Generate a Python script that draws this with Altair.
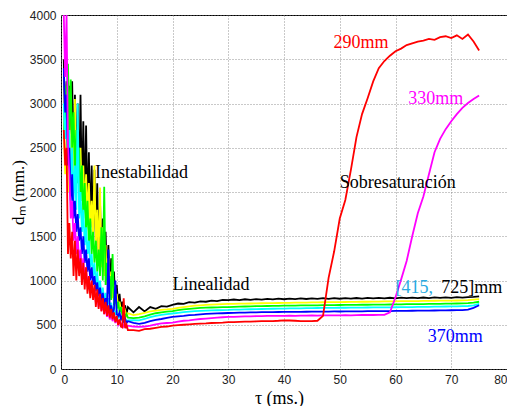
import altair as alt
import pandas as pd

# sample positions (ms)
x_early = [0.5 + 0.25 * i for i in range(47)]   # 0.5 .. 12.0
x_late = list(range(13, 76))                      # 13 .. 75

red_early = [2700, 2300, 2500, 1300, 1650, 1250, 1550, 1050, 1450, 1000, 1350, 1050,
             1250, 950, 1200, 900, 1150, 850, 1050, 800, 1000, 780, 950, 700,
             900, 680, 850, 650, 800, 620, 760, 600, 720, 580, 680, 560,
             640, 530, 600, 500, 560, 480, 470, 800, 460, 500, 440]
red_late = [440, 430, 450, 455, 465, 475, 480, 490, 495, 500, 505, 510, 512, 515, 520,
            522, 525, 530, 530, 533, 535, 535, 538, 540, 540, 542, 545, 550, 548, 545,
            540, 540, 542, 545, 600, 1030, 1330, 1700, 1910, 2250, 2620, 2880, 3060,
            3250, 3400, 3480, 3540, 3590, 3620, 3660, 3680, 3700, 3710, 3730, 3720,
            3750, 3760, 3740, 3770, 3730, 3780, 3700, 3600]

magenta_early = [4000, 3300, 4000, 2500, 2200, 1700, 1900, 1450, 1650, 1300, 1500, 1200,
                 1350, 1100, 1250, 1000, 1150, 930, 1050, 870, 980, 800, 900, 750,
                 850, 700, 800, 660, 740, 620, 700, 590, 660, 560, 630, 540,
                 600, 520, 570, 500, 540, 490, 520, 480, 500, 470, 490]
magenta_late = [480, 475, 480, 490, 505, 515, 520, 525, 535, 545, 550, 558, 565, 570, 575,
                580, 585, 588, 590, 592, 595, 595, 597, 598, 600, 600, 600, 600, 602, 600,
                603, 602, 605, 603, 605, 606, 605, 607, 608, 607, 608, 610, 610, 610, 612,
                612, 640, 810, 1010, 1220, 1500, 1760, 1950, 2200, 2450, 2600, 2710, 2800,
                2880, 2950, 3005, 3050, 3090]

blue_early = [3400, 2900, 3100, 2300, 2500, 1900, 2200, 1700, 1900, 1550, 1750, 1450,
              1600, 1300, 1500, 1200, 1350, 1100, 1250, 1000, 1150, 950, 1050, 880,
              980, 820, 920, 760, 860, 720, 800, 680, 1350, 650, 720, 620,
              680, 1000, 620, 600, 640, 560, 600, 540, 570, 520, 540]
blue_late = [520, 510, 520, 540, 555, 565, 578, 588, 595, 600, 608, 612, 618, 622, 625,
             628, 630, 633, 635, 636, 638, 640, 640, 642, 642, 643, 644, 645, 645, 646,
             646, 647, 648, 648, 648, 649, 650, 650, 651, 651, 652, 652, 653, 653, 654,
             655, 655, 656, 657, 657, 658, 659, 660, 660, 661, 662, 663, 664, 665, 666,
             670, 690, 720]

cyan_early = [3000, 2600, 2900, 2400, 2700, 2100, 2500, 1900, 2300, 1800, 3000, 1700,
              2000, 1550, 1800, 1400, 1600, 1300, 1450, 1150, 1300, 1050, 1200, 950,
              1100, 880, 1000, 820, 920, 760, 860, 720, 800, 680, 750, 640,
              700, 610, 660, 580, 620, 560, 590, 545, 570, 535, 550]
cyan_late = [553, 550, 565, 585, 600, 612, 620, 627, 635, 642, 648, 653, 657, 660, 662,
             664, 666, 667, 670, 672, 673, 675, 676, 678, 680, 681, 682, 683, 684, 685,
             686, 687, 688, 689, 690, 690, 691, 692, 692, 693, 694, 694, 695, 696, 696,
             697, 697, 698, 699, 700, 700, 701, 702, 703, 704, 705, 706, 707, 708, 710,
             712, 720, 735]

green_early = [2600, 3200, 2800, 3450, 2700, 3270, 2500, 2900, 2200, 2700, 2100, 2500,
               1900, 2300, 1700, 2100, 1550, 1900, 1400, 1700, 1300, 1550, 1200, 1450,
               1100, 1350, 1050, 1600, 1000, 2060, 950, 1200, 850, 1050, 780, 1300,
               720, 850, 680, 760, 640, 700, 610, 650, 590, 620, 580]
green_late = [576, 580, 595, 615, 630, 640, 648, 655, 665, 673, 680, 685, 690, 693, 695,
              697, 699, 700, 702, 704, 706, 708, 710, 711, 712, 713, 714, 715, 716, 717,
              718, 719, 720, 720, 721, 722, 722, 723, 724, 724, 725, 726, 726, 727, 728,
              728, 729, 730, 731, 732, 732, 733, 734, 735, 736, 737, 738, 739, 740, 742,
              744, 750, 760]

yellow_early = [2700, 2200, 2600, 2000, 2900, 2300, 2800, 2200, 3050, 2100, 2700, 2000,
                2500, 1900, 2300, 1800, 2200, 1700, 2100, 1600, 1900, 1500, 2300, 1400,
                1800, 1250, 2050, 1150, 1600, 1050, 1400, 950, 1250, 880, 1100, 800,
                950, 740, 850, 690, 760, 650, 700, 620, 660, 600, 630]
yellow_late = [610, 620, 635, 650, 660, 668, 673, 680, 690, 700, 708, 715, 720, 725, 728,
               730, 732, 735, 736, 738, 739, 740, 742, 743, 744, 745, 746, 747, 748, 749,
               750, 751, 752, 753, 754, 755, 755, 756, 757, 758, 759, 760, 760, 761, 762,
               763, 764, 765, 766, 767, 768, 768, 769, 770, 771, 772, 772, 773, 774, 775,
               778, 785, 790]

black_early = [3500, 2600, 3250, 2500, 3200, 2400, 3250, 2300, 3100, 2200, 3000, 2000,
               3100, 1900, 2800, 1800, 2750, 1700, 2450, 1600, 2300, 1500, 2250, 1400,
               2100, 1300, 1900, 1200, 1700, 1100, 1550, 1000, 1400, 900, 1250, 820,
               1100, 760, 950, 720, 850, 680, 760, 640, 720, 620, 700]
black_late = [640, 700, 650, 700, 680, 710, 705, 725, 740, 735, 755, 750, 765, 760, 772,
              768, 780, 778, 785, 778, 788, 782, 790, 785, 792, 786, 795, 788, 795, 790,
              797, 791, 798, 792, 800, 793, 800, 794, 801, 795, 802, 796, 803, 797, 804,
              798, 805, 799, 806, 800, 807, 801, 808, 802, 809, 803, 810, 804, 811, 806,
              812, 815, 820]

series = [
    ("725mm", "#000000", black_early, black_late),
    ("650mm", "#ffff00", yellow_early, yellow_late),
    ("540mm", "#00ff00", green_early, green_late),
    ("415mm", "#00ffff", cyan_early, cyan_late),
    ("370mm", "#0000ff", blue_early, blue_late),
    ("330mm", "#ff00ff", magenta_early, magenta_late),
    ("290mm", "#ff0000", red_early, red_late),
]

# annotations
ann_text = ["290mm", "330mm", "Sobresaturación", "Linealidad", "370mm"]
ann_x = [53.8, 67.2, 60.4, 26.9, 70.7]
ann_y = [3685, 3050, 2100, 950, 360]
ann_color = ["#ff0000", "#ff00ff", "#000000", "#000000", "#0000ff"]

xs = alt.Scale(domain=[0, 80], nice=False)
ys = alt.Scale(domain=[0, 4000], nice=False)

x_axis = alt.Axis(values=list(range(0, 81, 10)), title="τ (ms.)", grid=True, format="d",
                  titlePadding=4, titleX=218)
y_axis = alt.Axis(values=list(range(0, 4001, 500)), title="dₘ (mm.)", grid=True, format="d",
                  titleX=-43, titleY=177, titleBaseline="middle", titleAlign="center",
                  titleAngle=270, titleFontSize=17)

X = alt.X("t:Q", scale=xs, axis=x_axis)
Y = alt.Y("d:Q", scale=ys, axis=y_axis)

layers = []
for name, col, e, l in series:
    df = pd.DataFrame({"t": x_early + x_late, "d": e + l})
    layers.append(
        alt.Chart(df).mark_line(color=col, strokeWidth=1.8, clip=True)
        .encode(x=X, y=Y, order="t:Q")
    )

ann_df = pd.DataFrame({"t": ann_x, "d": ann_y, "txt": ann_text, "c": ann_color})
layers.append(
    alt.Chart(ann_df).mark_text(font="Liberation Serif", fontSize=18, baseline="middle", align="center")
    .encode(x=X, y=Y, text="txt:N", color=alt.Color("c:N", scale=None))
)

left_df = pd.DataFrame({"t": [6.1, 60.0, 68.2], "d": [2215, 915, 915],
                        "txt": ["Inestabilidad", "[415,", "725]mm"],
                        "c": ["#000000", "#29abe2", "#000000"]})
layers.append(
    alt.Chart(left_df).mark_text(font="Liberation Serif", fontSize=18, baseline="middle", align="left")
    .encode(x=X, y=Y, text="txt:N", color=alt.Color("c:N", scale=None))
)

chart = alt.layer(*layers).properties(
    width=446, height=354,
    autosize=alt.AutoSizeParams(type="none"),
    padding={"left": 53, "top": 7, "right": 0, "bottom": 40},
).configure_view(
    stroke="#000000", strokeWidth=1
).configure_axis(
    gridColor="#777777", gridDash=[1, 2], gridWidth=0.8,
    domain=False, ticks=False,
    labelFont="Liberation Sans", labelFontSize=12, labelColor="#222222",
    labelPadding=5,
    titleFont="Liberation Serif", titleFontSize=18, titleFontWeight="normal",
    titleColor="#000000",
)

chart.save("out.html", embed_options={"renderer": "svg", "actions": False})
